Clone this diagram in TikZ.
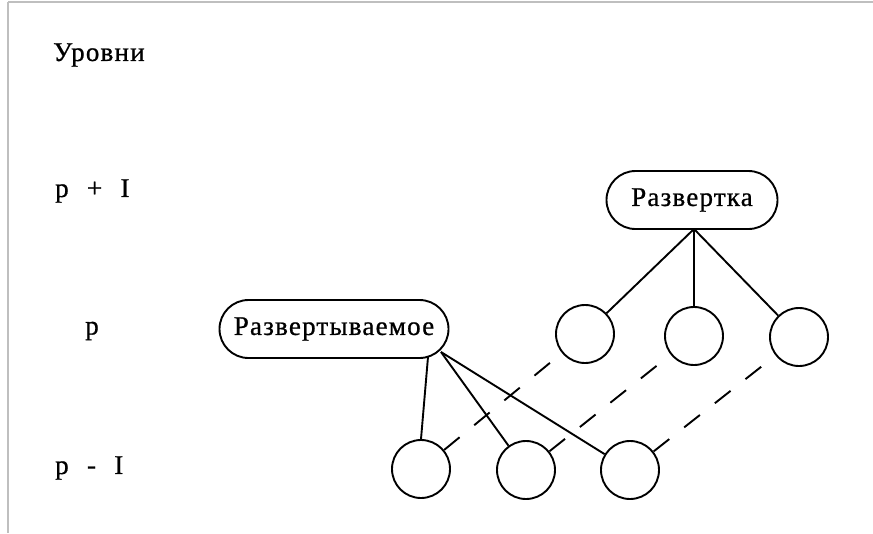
\documentclass[tikz,border=0pt]{standalone}
\usepackage{fontspec}
\newfontfamily\typewriter[LetterSpace=4.5,WordSpace=2.3,FakeBold=0.8]{Liberation Serif}
\usetikzlibrary{calc}
\begin{document}
\begin{tikzpicture}[x=1pt,y=-1pt,
  every node/.style={font=\typewriter\fontsize{27}{29}\selectfont, inner sep=0pt},
  frameline/.style={draw=black!25, line width=2pt},
  link/.style={line width=1.9pt},
  mapping/.style={line width=1.9pt, dash pattern=on 20pt off 19pt},
  pill/.style={draw, line width=1.9pt, rounded corners=29pt, minimum height=58pt},
  vertex/.style={draw, circle, line width=1.9pt, minimum size=58pt}]
  \useasboundingbox (0,0) rectangle (873,533);
  % page frame
  \draw[frameline] (8,2) -- (873,2);
  \draw[frameline] (8,2) -- (8,533);

  % level labels
  \node[anchor=west] (levels) at (53,55) {Уровни};
  \node[anchor=west] (lup) at (55,191) {p + I};
  \node (lmid) at (92,331) {p};
  \node[anchor=west] (ldown) at (55,468) {p - I};

  % the two named nodes
  \node[pill, minimum width=171pt] (top) at (692,200) {Развертка};
  \node[pill, minimum width=229pt] (unf) at (334,329) {Развертываемое};

  % circles on level p
  \node[vertex] (t1) at (585,334) {};
  \node[vertex] (t2) at (694,336) {};
  \node[vertex] (t3) at (799,337) {};
  % circles on level p - I
  \node[vertex] (b1) at (421,469) {};
  \node[vertex] (b2) at (526,470) {};
  \node[vertex] (b3) at (630,470) {};

  % solid links
  \coordinate (tfoot) at (694,229);
  \draw[link] (tfoot) -- (t1);
  \draw[link] (tfoot) -- (t2);
  \draw[link] (tfoot) -- (t3);
  \coordinate (ufoot) at (428,357);
  \coordinate (ucorner) at (441,352);
  \draw[link] (ufoot) -- (b1.north);
  \draw[link] (ucorner) -- (b2);
  \draw[link] (ucorner) -- (b3);

  % dashed correspondences
  \draw[mapping] (b1) -- (t1);
  \draw[mapping] (b2) -- (t2);
  \draw[mapping] (b3) -- (t3);
\end{tikzpicture}
\end{document}
